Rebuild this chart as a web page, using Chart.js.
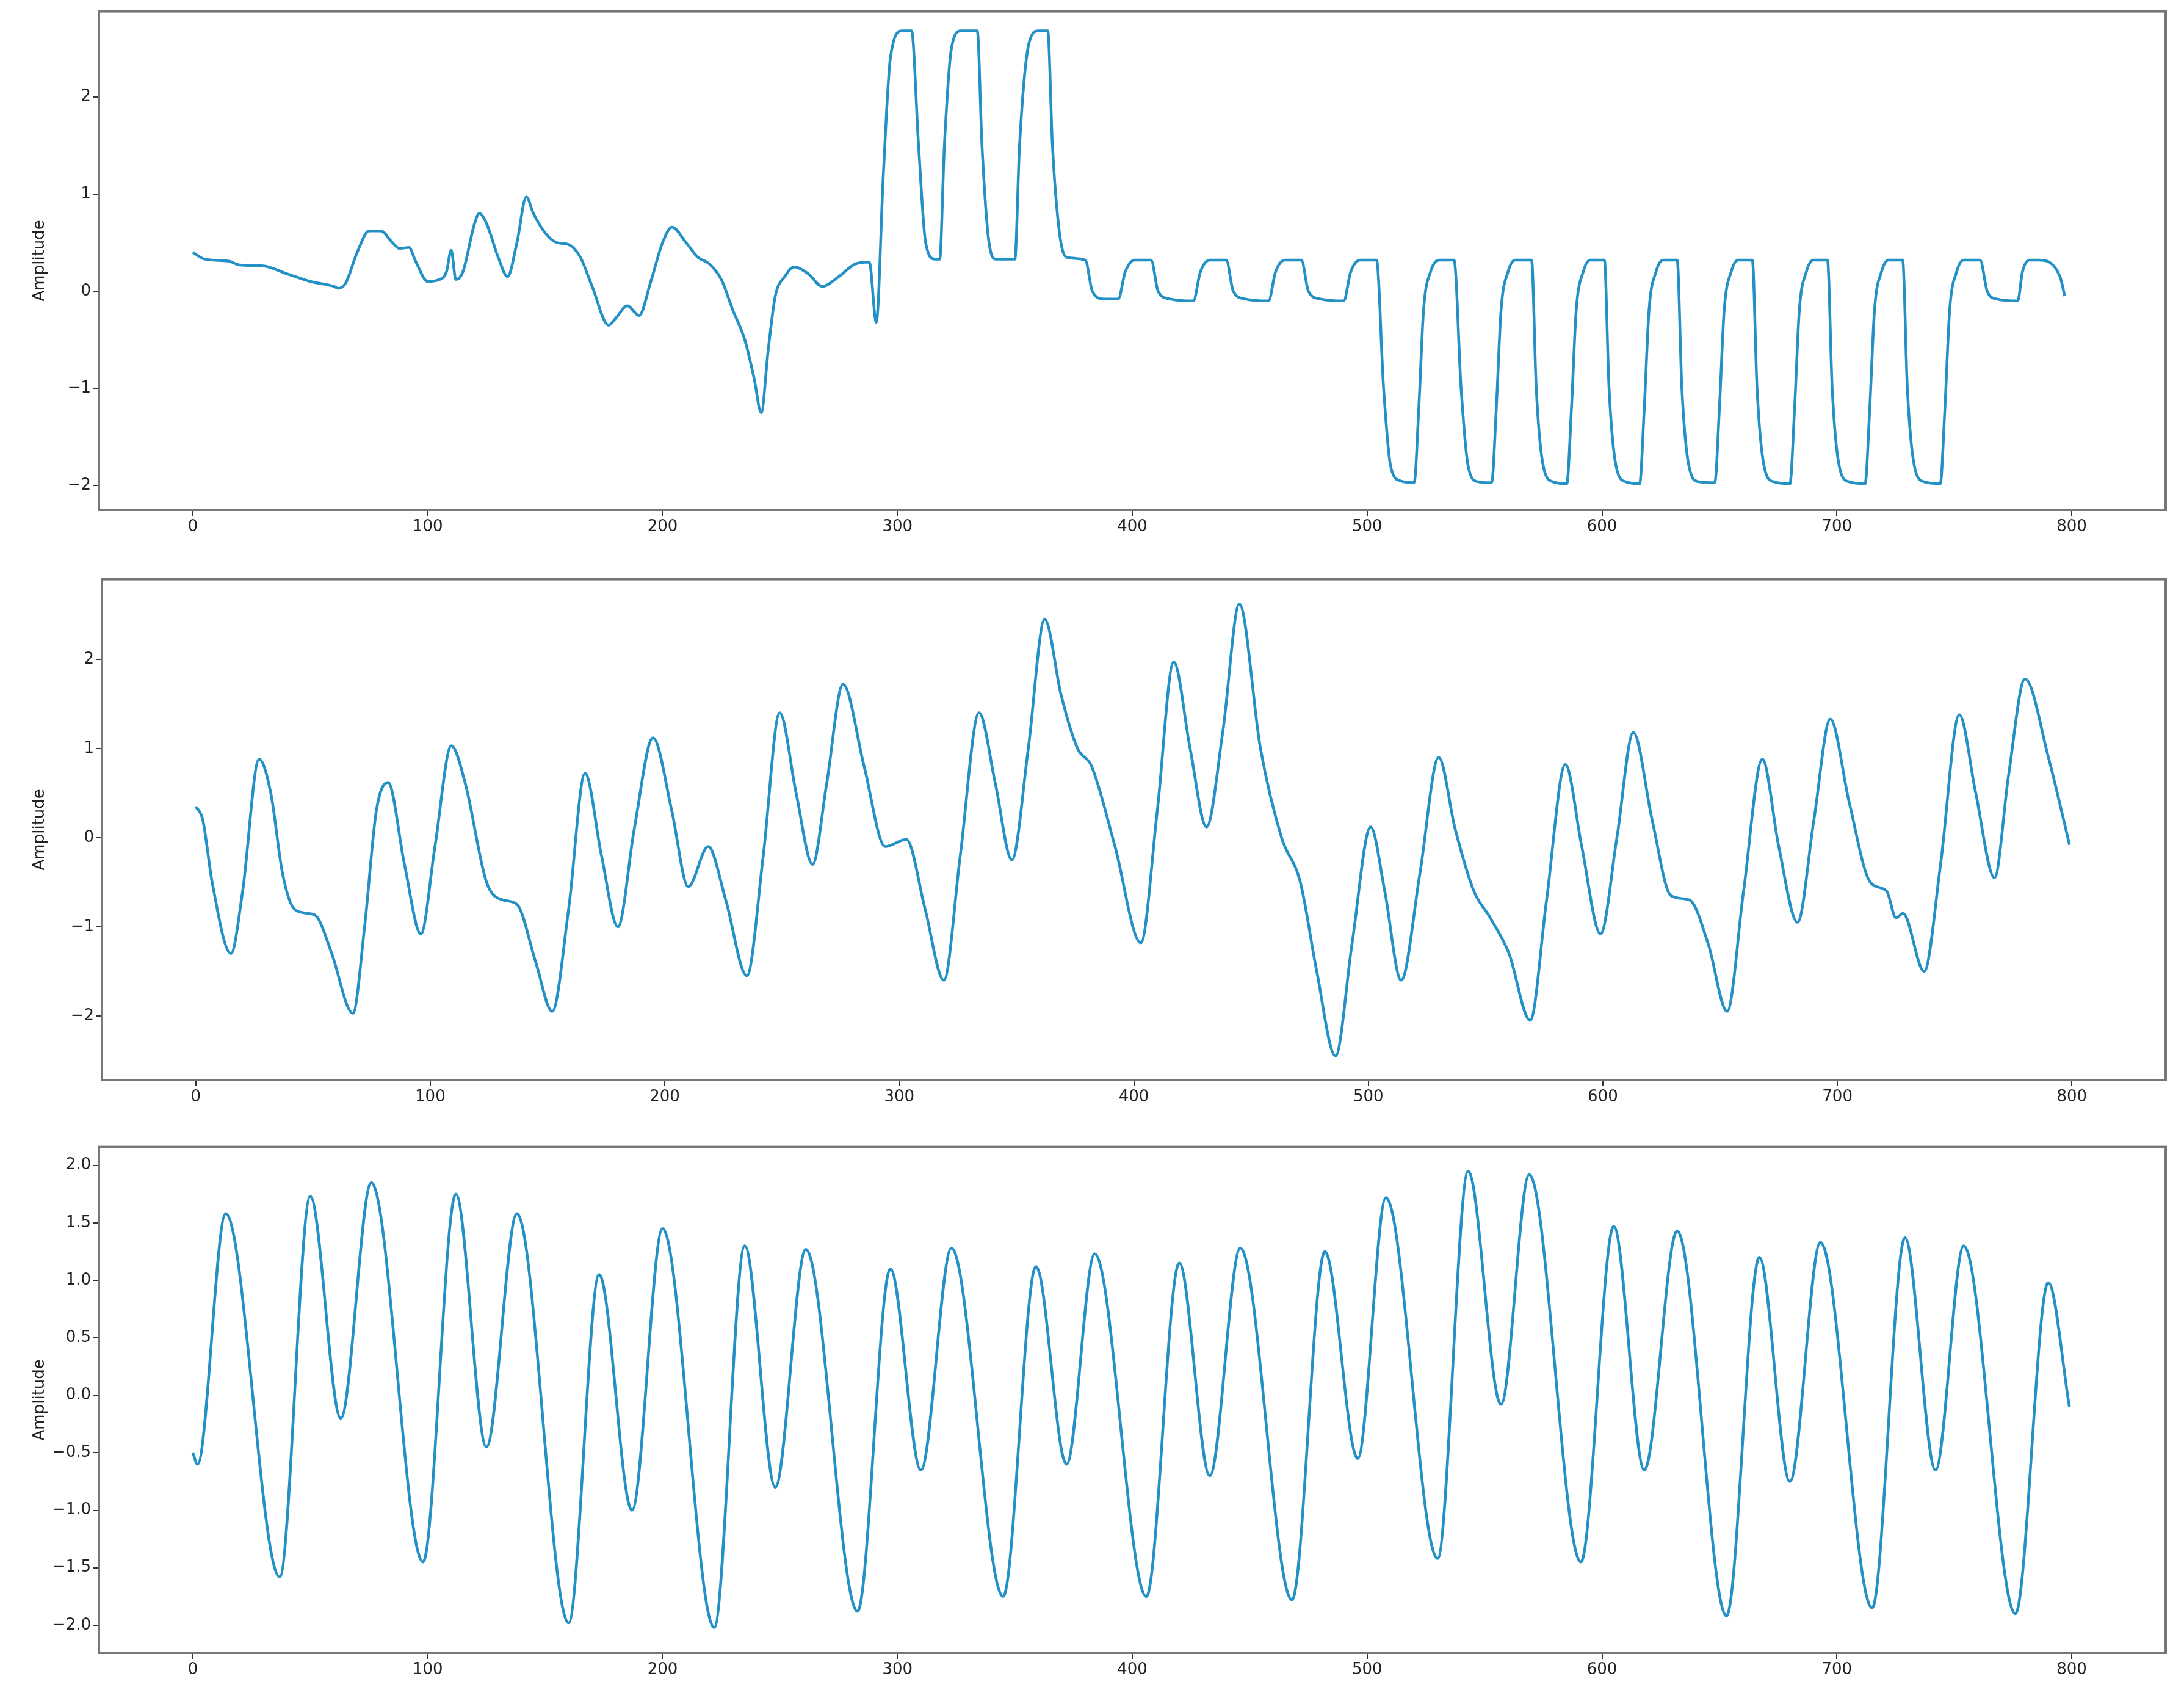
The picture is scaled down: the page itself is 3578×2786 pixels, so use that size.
<!DOCTYPE html>
<html>
<head>
<meta charset="utf-8">
<script src="https://cdn.jsdelivr.net/npm/chart.js@4"></script>
<style>
  body { margin: 0; background: #fff; width: 3578px; height: 2786px; overflow: hidden; }
  .panel { position: absolute; left: 0; width: 3578px; }
</style>
</head>
<body>
<div class="panel" style="top:0;height:930px"><canvas id="c1"></canvas></div>
<div class="panel" style="top:930px;height:930px"><canvas id="c2"></canvas></div>
<div class="panel" style="top:1860px;height:926px"><canvas id="c3"></canvas></div>
<script>
// signal 1 (x, amplitude)
const x1 = [0,5,15,20,30,40,50,60,62,65,70,75,80,85,88,92,95,100,105,108,110,112,115,120,122,125,130,134,138,142,145,150,155,160,165,170,177,180,185,190,195,200,204,210,215,220,225,230,235,239,242,245,248,252,256,262,268,275,282,288,291,294,297,302,306,309,312,316,318,320,323,327,334,336,339,342,350,352,356,360,364,366,369,372,380,383,388,394,397,401,408,411,416,426,429,433,440,443,448,458,461,465,472,475,480,490,493,497,504,507,510,514,520,522,524,527,531,537,540,543,547,553,555,557,560,563,570,572,575,579,585,587,589,592,595,601,603,606,610,616,618,620,623,626,632,634,637,641,648,650,652,655,658,664,666,669,673,680,682,684,687,690,696,698,701,705,712,714,716,719,722,728,730,733,737,744,746,748,751,754,761,764,768,777,779,782,786,795,797,799];
const y1 = [0.4,0.33,0.31,0.27,0.26,0.18,0.1,0.05,0.03,0.08,0.4,0.62,0.62,0.5,0.44,0.45,0.3,0.1,0.12,0.2,0.42,0.12,0.2,0.7,0.8,0.7,0.35,0.15,0.5,0.97,0.8,0.6,0.5,0.48,0.35,0.05,-0.35,-0.28,-0.15,-0.25,0.1,0.5,0.66,0.5,0.35,0.28,0.12,-0.2,-0.5,-0.9,-1.25,-0.6,-0.05,0.15,0.25,0.18,0.05,0.15,0.28,0.3,-0.32,1.2,2.4,2.68,2.68,1.5,0.5,0.33,0.33,1.5,2.5,2.68,2.68,1.5,0.5,0.33,0.33,1.5,2.55,2.68,2.68,1.5,0.6,0.35,0.32,0.0,-0.08,-0.08,0.2,0.32,0.32,0.0,-0.08,-0.1,0.2,0.32,0.32,0.0,-0.08,-0.1,0.2,0.32,0.32,0.0,-0.08,-0.1,0.2,0.32,0.32,-1.0,-1.8,-1.95,-1.97,-1.2,-0.2,0.2,0.32,0.32,-1.0,-1.8,-1.96,-1.97,-1.2,-0.2,0.2,0.32,0.32,-1.0,-1.8,-1.96,-1.98,-1.2,-0.2,0.2,0.32,0.32,-1.0,-1.8,-1.96,-1.98,-1.2,-0.2,0.2,0.32,0.32,-1.0,-1.8,-1.96,-1.97,-1.2,-0.2,0.2,0.32,0.32,-1.0,-1.8,-1.96,-1.98,-1.2,-0.2,0.2,0.32,0.32,-1.0,-1.8,-1.96,-1.98,-1.2,-0.2,0.2,0.32,0.32,-1.0,-1.8,-1.96,-1.98,-1.2,-0.2,0.2,0.32,0.32,0.0,-0.08,-0.1,0.2,0.32,0.32,0.15,-0.05];

// signal 2
const x2 = [0,3,7,15,20,27,32,37,42,48,52,58,67,72,77,82,89,96,102,109,115,124,131,137,145,152,159,166,173,180,187,195,203,210,218.5,226,235,242,249,256,263,269,276,285,294,303,311,319,326,334,341,348,355,362,369,376,382,392,403,410,417,424,431,438,445,454,463,471,478,486,493,501,507,514,522,530,537,545,552,560,569,576,584,591,599,606,613,621,629,637,645,653,660,668,675,683,690,697,705,714,721,725,728,737,744,752,759,767,773,780,790,799];
const y2 = [0.35,0.2,-0.5,-1.3,-0.6,0.88,0.5,-0.4,-0.8,-0.85,-0.9,-1.3,-1.97,-1.0,0.3,0.62,-0.3,-1.08,-0.1,1.03,0.6,-0.5,-0.7,-0.75,-1.4,-1.95,-0.8,0.72,-0.2,-1.0,0.1,1.12,0.3,-0.55,-0.1,-0.7,-1.55,-0.2,1.4,0.5,-0.3,0.6,1.72,0.8,-0.1,-0.02,-0.8,-1.6,-0.2,1.4,0.6,-0.25,1.0,2.45,1.6,1.0,0.8,-0.1,-1.18,0.3,1.97,1.0,0.12,1.2,2.62,1.0,0.0,-0.5,-1.5,-2.45,-1.2,0.12,-0.6,-1.6,-0.4,0.9,0.1,-0.6,-0.9,-1.3,-2.05,-0.7,0.82,-0.1,-1.08,0.0,1.18,0.2,-0.65,-0.7,-1.2,-1.95,-0.6,0.88,-0.1,-0.95,0.2,1.33,0.4,-0.5,-0.6,-0.9,-0.85,-1.5,-0.3,1.38,0.5,-0.45,0.7,1.78,0.9,-0.08];

// signal 3
const x3 = [0,2,14,37,50,63,76,98,112,125,138,160,173,187,200,222,235,248,261,283,297,310,323,345,359,372,384,406,420,433,446,468,482,496,508,530,543,557,569,591,605,618,632,653,667,680,693,715,729,742,754,776,790,799];
const y3 = [-0.5,-0.6,1.58,-1.58,1.73,-0.2,1.85,-1.45,1.75,-0.45,1.58,-1.98,1.05,-1.0,1.45,-2.02,1.3,-0.8,1.27,-1.88,1.1,-0.65,1.28,-1.75,1.12,-0.6,1.23,-1.75,1.15,-0.7,1.28,-1.78,1.25,-0.55,1.72,-1.42,1.95,-0.08,1.92,-1.45,1.47,-0.65,1.43,-1.92,1.2,-0.75,1.33,-1.85,1.37,-0.65,1.3,-1.9,0.98,-0.1];

const frame = {
  id: 'frame',
  afterDraw(chart) {
    const a = chart.chartArea, c = chart.ctx;
    c.save();
    c.strokeStyle = '#777';
    c.lineWidth = 4;
    c.strokeRect(a.left, a.top, a.right - a.left, a.bottom - a.top);
    c.restore();
  }
};

function makeChart(id, xs, ys, yMin, yMax, step, decimals, padTop, leftW, bottomH) {
  new Chart(document.getElementById(id), {
    type: 'line',
    data: {
      datasets: [{
        data: xs.map((x, i) => ({ x: x, y: ys[i] })),
        borderColor: '#2390c6',
        borderWidth: 4.5,
        pointRadius: 0,
        cubicInterpolationMode: 'monotone',
        fill: false
      }]
    },
    options: {
      responsive: true,
      maintainAspectRatio: false,
      animation: false,
      layout: { padding: { top: padTop, right: 30 } },
      plugins: { legend: { display: false }, tooltip: { enabled: false } },
      scales: {
        x: {
          type: 'linear', min: -40, max: 840,
          afterFit(s) { s.height = bottomH; },
          afterBuildTicks(s) { s.ticks = [0,100,200,300,400,500,600,700,800].map(v => ({ value: v })); },
          grid: { drawOnChartArea: false, tickLength: 10, color: '#333', lineWidth: 2 },
          border: { display: false },
          ticks: { color: '#222', font: { family: 'DejaVu Sans', size: 26 }, maxRotation: 0 }
        },
        y: {
          min: yMin, max: yMax,
          afterFit(s) { s.width = leftW; },
          afterBuildTicks(s) {
            const t = [];
            for (let v = -2; v <= 2.0001; v += step) t.push({ value: Math.round(v * 10) / 10 });
            s.ticks = t;
          },
          grid: { drawOnChartArea: false, tickLength: 10, color: '#333', lineWidth: 2 },
          border: { display: false },
          title: { display: true, text: 'Amplitude', color: '#222', padding: { top: 50, bottom: 0 }, font: { family: 'DejaVu Sans', size: 26 } },
          ticks: {
            color: '#222', font: { family: 'DejaVu Sans', size: 26 },
            callback: v => v.toFixed(decimals).replace('-', '\u2212')
          }
        }
      }
    },
    plugins: [frame]
  });
}

makeChart('c1', x1, y1, -2.25, 2.88, 1, 0, 18, 162, 95);
makeChart('c2', x2, y2, -2.72, 2.90, 1, 0, 10, 167, 91);
makeChart('c3', x3, y3, -2.24, 2.16, 0.5, 1, 16, 162, 79);
</script>
</body>
</html>
